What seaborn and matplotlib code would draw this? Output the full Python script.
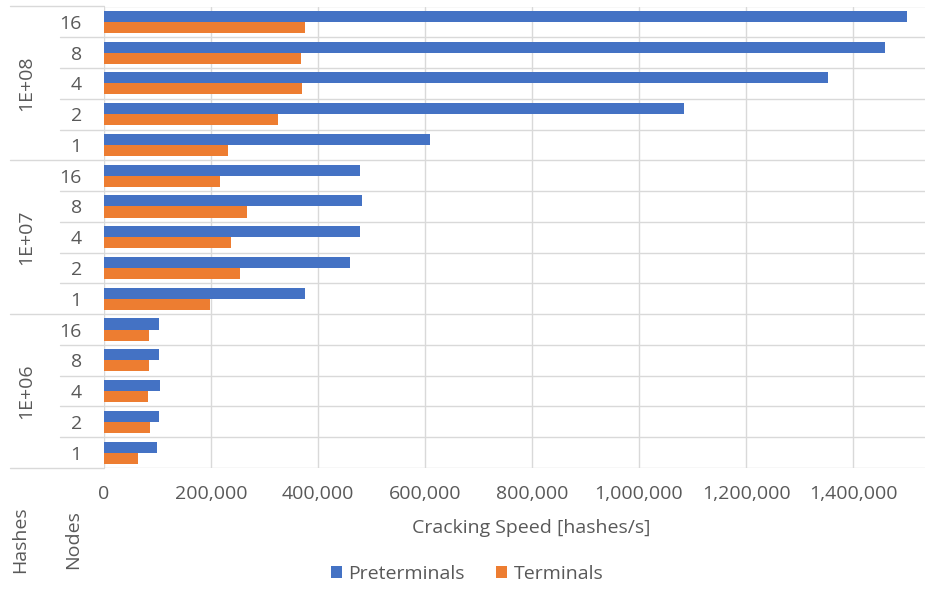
import matplotlib
matplotlib.use("Agg")
import matplotlib.pyplot as plt
import matplotlib.transforms as mtransforms
from matplotlib.lines import Line2D
from matplotlib.patches import Patch
from matplotlib.text import Text
from matplotlib.ticker import FuncFormatter
import seaborn as sns
import pandas as pd

# Cracking speed per hash count and node count
hashes = ["1E+08", "1E+07", "1E+06"]
nodes = ["16", "8", "4", "2", "1"]
series = ["Preterminals", "Terminals"]

preterminals_1e8 = [1501000, 1459000, 1354000, 1084000, 610000]
terminals_1e8 = [376000, 369000, 371000, 326000, 231000]
preterminals_1e7 = [479000, 483000, 479000, 459000, 376000]
terminals_1e7 = [217000, 268000, 238000, 254000, 199000]
preterminals_1e6 = [103000, 103000, 105000, 103000, 99000]
terminals_1e6 = [84000, 84000, 82000, 86000, 64000]

x_ticks = [0, 200000, 400000, 600000, 800000, 1000000, 1200000, 1400000]

values = {
    ("1E+08", "Preterminals"): preterminals_1e8,
    ("1E+08", "Terminals"): terminals_1e8,
    ("1E+07", "Preterminals"): preterminals_1e7,
    ("1E+07", "Terminals"): terminals_1e7,
    ("1E+06", "Preterminals"): preterminals_1e6,
    ("1E+06", "Terminals"): terminals_1e6,
}

records = []
for h in hashes:
    for i, n in enumerate(nodes):
        for s in series:
            records.append({"row": f"{h}|{n}", "hashes": h, "nodes": n,
                            "series": s, "speed": values[(h, s)][i]})
df = pd.DataFrame(records)
row_order = [f"{h}|{n}" for h in hashes for n in nodes]

BLUE = "#4472C4"
ORANGE = "#ED7D31"
GRID = "#D9D9D9"
TEXT = "#595959"

sns.set_style("white")
plt.rcParams["font.family"] = ["Open Sans", "DejaVu Sans"]
FS = 14

W, H = 925, 589
fig = plt.figure(figsize=(W / 100, H / 100), dpi=100)

ax_left, ax_right = 104, 960
ax_top, ax_bottom = 6.5, 468
ax = fig.add_axes([ax_left / W, 1 - ax_bottom / H,
                   (ax_right - ax_left) / W, (ax_bottom - ax_top) / H])

sns.barplot(data=df, x="speed", y="row", hue="series", order=row_order,
            hue_order=series, palette=[BLUE, ORANGE], orient="h",
            width=0.72, saturation=1, linewidth=0, legend=False, ax=ax)

ax.set_xlim(0, 1600000)
ax.set_ylim(len(row_order) - 0.5, -0.5)
ax.set_xticks(x_ticks)
ax.xaxis.set_major_formatter(FuncFormatter(lambda v, p: f"{int(v):,}"))
ax.set_yticks(range(len(row_order)))
ax.set_yticklabels([r.split("|")[1] for r in row_order])
ax.tick_params(axis="x", length=0, pad=12, labelsize=FS, labelcolor=TEXT)
ax.tick_params(axis="y", length=0, pad=16, labelsize=FS, labelcolor=TEXT)
ax.set_xlabel("")
ax.set_ylabel("")
for sp in ax.spines.values():
    sp.set_visible(False)

# vertical value grid
ax.set_axisbelow(True)
ax.xaxis.grid(True, color=GRID, lw=1)
ax.yaxis.grid(False)

# row separators, extended into the category label area
trans = mtransforms.blended_transform_factory(fig.transFigure, ax.transData)
for b in range(len(row_order) + 1):
    y = b - 0.5
    ax.axhline(y, color=GRID, lw=1, zorder=0.5)
    x0 = 10 if b % len(nodes) == 0 else 60
    fig.add_artist(Line2D([x0 / W, ax_left / W], [y, y], transform=trans,
                          color=GRID, lw=1))

# outer category labels (hash counts)
for gi, h in enumerate(hashes):
    yc = gi * len(nodes) + (len(nodes) - 1) / 2
    fig.add_artist(Text(26 / W, yc, h, transform=trans, rotation=90,
                        ha="center", va="center", fontsize=FS, color=TEXT))

# axis title and field labels
fig.text(531 / W, 1 - 528 / H, "Cracking Speed [hashes/s]", ha="center",
         va="center", fontsize=FS, color=TEXT)
fig.text(20 / W, 1 - 540 / H, "Hashes", rotation=90, ha="center",
         va="center", fontsize=FS, color=TEXT)
fig.text(73 / W, 1 - 540 / H, "Nodes", rotation=90, ha="center",
         va="center", fontsize=FS, color=TEXT)

handles = [Patch(facecolor=BLUE, edgecolor="none", label="Preterminals"),
           Patch(facecolor=ORANGE, edgecolor="none", label="Terminals")]
leg = fig.legend(handles=handles, loc="center", ncol=2,
                 bbox_to_anchor=(467 / W, 1 - 574 / H), frameon=False,
                 fontsize=FS, handlelength=0.55, handleheight=0.55,
                 handletextpad=0.35, columnspacing=1.6)
for t in leg.get_texts():
    t.set_color(TEXT)

fig.savefig("out.png", dpi=100, facecolor="white")
